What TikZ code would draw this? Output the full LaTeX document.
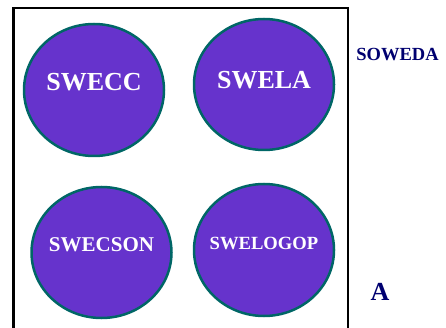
\documentclass[tikz,border=0pt]{standalone}
\usepackage{fontspec}
\setmainfont{Liberation Serif}
\usetikzlibrary{shapes.geometric}
\definecolor{blobfill}{RGB}{102,51,204}
\definecolor{blobedge}{RGB}{0,102,102}
\definecolor{navy}{RGB}{0,0,112}
\begin{document}
\begin{tikzpicture}[x=1pt,y=-1pt,
  blob/.style={ellipse,fill=blobfill,draw=blobedge,line width=2.5pt,
    minimum width=140pt,inner xsep=-30pt,inner ysep=0pt,text=white},
  tag/.style={text=navy,inner sep=0pt}]
  \useasboundingbox (0,0) rectangle (446,328);
  \clip (0,0) rectangle (446,328);
  % frame, open at the bottom
  \draw[line width=2.5pt] (13.5,340) -- (13.5,8) -- (348,8) -- (348,340);
  \node[blob,minimum height=132pt,text depth=16pt,
    font=\fontsize{26}{30}\selectfont\bfseries] (swecc) at (94,90) {SWECC};
  \node[blob,minimum height=131pt,text depth=10pt,
    font=\fontsize{26}{30}\selectfont\bfseries] (swela) at (264,84.5) {SWELA};
  \node[blob,minimum height=131pt,text depth=15pt,
    font=\fontsize{21}{25}\selectfont\bfseries] (swecson) at (101.5,252.5) {SWECSON};
  \node[blob,minimum height=132pt,text depth=14pt,
    font=\fontsize{18.6}{22}\selectfont\bfseries] (swelogop) at (264,250) {SWELOGOP};
  \node[tag,font=\fontsize{18.5}{22}\selectfont\bfseries] (soweda) at (397.5,55) {SOWEDA};
  \node[tag,font=\fontsize{26}{30}\selectfont\bfseries] (tagA) at (380,292) {A};
\end{tikzpicture}
\end{document}
